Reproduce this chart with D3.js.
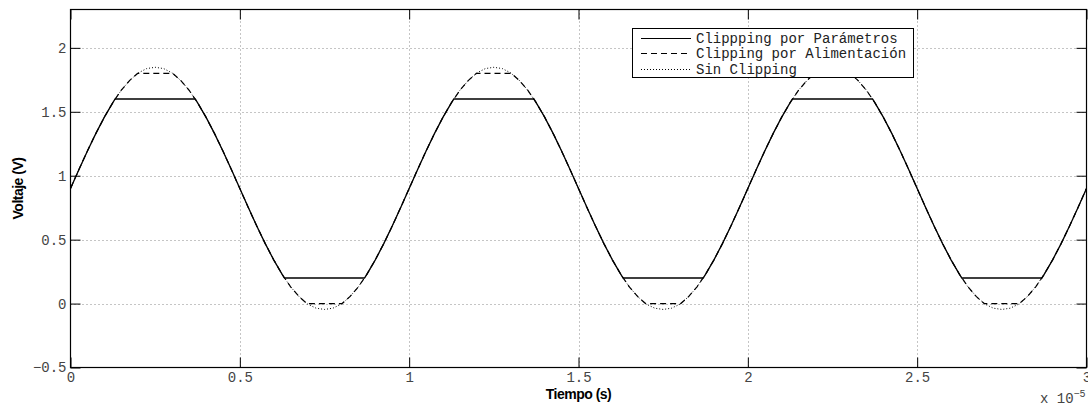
<!DOCTYPE html>
<html>
<head>
<meta charset="utf-8">
<script src="https://cdn.jsdelivr.net/npm/d3@7"></script>
<style>
  html, body { margin: 0; padding: 0; background: #fff; }
  svg { display: block; }
</style>
</head>
<body>
<svg id="chart" width="1088" height="411"></svg>
<script>
// Time axis values are expressed in units of 10^-5 s.

// Sin Clipping: uniformly sampled output voltage (V)
const tiempoSin = [
  0,0.025,0.05,0.075,0.1,0.125,0.15,0.175,0.2,0.225,0.25,0.275,0.3,0.325,0.35,0.375,0.4,0.425,0.45,0.475,
  0.5,0.525,0.55,0.575,0.6,0.625,0.65,0.675,0.7,0.725,0.75,0.775,0.8,0.825,0.85,0.875,0.9,0.925,0.95,0.975,
  1,1.025,1.05,1.075,1.1,1.125,1.15,1.175,1.2,1.225,1.25,1.275,1.3,1.325,1.35,1.375,1.4,1.425,1.45,1.475,
  1.5,1.525,1.55,1.575,1.6,1.625,1.65,1.675,1.7,1.725,1.75,1.775,1.8,1.825,1.85,1.875,1.9,1.925,1.95,1.975,
  2,2.025,2.05,2.075,2.1,2.125,2.15,2.175,2.2,2.225,2.25,2.275,2.3,2.325,2.35,2.375,2.4,2.425,2.45,2.475,
  2.5,2.525,2.55,2.575,2.6,2.625,2.65,2.675,2.7,2.725,2.75,2.775,2.8,2.825,2.85,2.875,2.9,2.925,2.95,2.975,
  3
];
const voltajeSin = [
  0.900,1.049,1.194,1.331,1.458,1.572,1.669,1.746,1.804,1.838,1.848,1.838,1.804,1.746,1.669,1.572,1.458,1.331,1.194,1.049,
  0.900,0.751,0.606,0.469,0.342,0.228,0.131,0.054,-0.004,-0.036,-0.046,-0.036,-0.004,0.054,0.131,0.228,0.342,0.469,0.606,0.751,
  0.900,1.049,1.194,1.331,1.458,1.572,1.669,1.746,1.804,1.838,1.848,1.838,1.804,1.746,1.669,1.572,1.458,1.331,1.194,1.049,
  0.900,0.751,0.606,0.469,0.342,0.228,0.131,0.054,-0.004,-0.036,-0.046,-0.036,-0.004,0.054,0.131,0.228,0.342,0.469,0.606,0.751,
  0.900,1.049,1.194,1.331,1.458,1.572,1.669,1.746,1.804,1.838,1.848,1.838,1.804,1.746,1.669,1.572,1.458,1.331,1.194,1.049,
  0.900,0.751,0.606,0.469,0.342,0.228,0.131,0.054,-0.004,-0.036,-0.046,-0.036,-0.004,0.054,0.131,0.228,0.342,0.469,0.606,0.751,
  0.900
];

// Clipping por Parámetros: output limited to 0.2 V .. 1.6 V
const tiempoParametros = [
  0,0.025,0.05,0.075,0.1,0.125,0.1318,0.3682,0.375,0.4,0.425,0.45,0.475,0.5,0.525,0.55,0.575,0.6,0.625,0.6318,0.8682,0.875,0.9,0.925,0.95,0.975,
  1,1.025,1.05,1.075,1.1,1.125,1.1318,1.3682,1.375,1.4,1.425,1.45,1.475,1.5,1.525,1.55,1.575,1.6,1.625,1.6318,1.8682,1.875,1.9,1.925,1.95,1.975,
  2,2.025,2.05,2.075,2.1,2.125,2.1318,2.3682,2.375,2.4,2.425,2.45,2.475,2.5,2.525,2.55,2.575,2.6,2.625,2.6318,2.8682,2.875,2.9,2.925,2.95,2.975,
  3
];
const voltajeParametros = [
  0.900,1.049,1.194,1.331,1.458,1.572,1.600,1.600,1.572,1.458,1.331,1.194,1.049,0.900,0.751,0.606,0.469,0.342,0.228,0.200,0.200,0.228,0.342,0.469,0.606,0.751,
  0.900,1.049,1.194,1.331,1.458,1.572,1.600,1.600,1.572,1.458,1.331,1.194,1.049,0.900,0.751,0.606,0.469,0.342,0.228,0.200,0.200,0.228,0.342,0.469,0.606,0.751,
  0.900,1.049,1.194,1.331,1.458,1.572,1.600,1.600,1.572,1.458,1.331,1.194,1.049,0.900,0.751,0.606,0.469,0.342,0.228,0.200,0.200,0.228,0.342,0.469,0.606,0.751,
  0.900
];

// Clipping por Alimentación: output limited to the 0 V .. 1.8 V supply rails
const tiempoAlimentacion = [
  0,0.025,0.05,0.075,0.1,0.125,0.15,0.175,0.1981,0.3019,0.325,0.35,0.375,0.4,0.425,0.45,0.475,0.5,0.525,0.55,0.575,0.6,0.625,0.65,0.675,0.6981,0.8019,0.825,0.85,0.875,0.9,0.925,0.95,0.975,
  1,1.025,1.05,1.075,1.1,1.125,1.15,1.175,1.1981,1.3019,1.325,1.35,1.375,1.4,1.425,1.45,1.475,1.5,1.525,1.55,1.575,1.6,1.625,1.65,1.675,1.6981,1.8019,1.825,1.85,1.875,1.9,1.925,1.95,1.975,
  2,2.025,2.05,2.075,2.1,2.125,2.15,2.175,2.1981,2.3019,2.325,2.35,2.375,2.4,2.425,2.45,2.475,2.5,2.525,2.55,2.575,2.6,2.625,2.65,2.675,2.6981,2.8019,2.825,2.85,2.875,2.9,2.925,2.95,2.975,
  3
];
const voltajeAlimentacion = [
  0.900,1.049,1.194,1.331,1.458,1.572,1.669,1.746,1.800,1.800,1.746,1.669,1.572,1.458,1.331,1.194,1.049,0.900,0.751,0.606,0.469,0.342,0.228,0.131,0.054,0.000,0.000,0.054,0.131,0.228,0.342,0.469,0.606,0.751,
  0.900,1.049,1.194,1.331,1.458,1.572,1.669,1.746,1.800,1.800,1.746,1.669,1.572,1.458,1.331,1.194,1.049,0.900,0.751,0.606,0.469,0.342,0.228,0.131,0.054,0.000,0.000,0.054,0.131,0.228,0.342,0.469,0.606,0.751,
  0.900,1.049,1.194,1.331,1.458,1.572,1.669,1.746,1.800,1.800,1.746,1.669,1.572,1.458,1.331,1.194,1.049,0.900,0.751,0.606,0.469,0.342,0.228,0.131,0.054,0.000,0.000,0.054,0.131,0.228,0.342,0.469,0.606,0.751,
  0.900
];

const xTicks = [0, 0.5, 1, 1.5, 2, 2.5, 3];
const yTicks = [-0.5, 0, 0.5, 1, 1.5, 2];
const xTickLabels = ["0", "0.5", "1", "1.5", "2", "2.5", "3"];
const yTickLabels = ["\u22120.5", "0", "0.5", "1", "1.5", "2"];
const legendLabels = ["Clippping por Parámetros", "Clipping por Alimentación", "Sin Clipping"];

const svg = d3.select("#chart");
const L = 70.5, R = 1086.5, T = 9.5, B = 367.5;
const x = d3.scaleLinear().domain([0, 3]).range([L, R]);
const y = d3.scaleLinear().domain([-0.5, 2.3]).range([B, T]);

const mono = "'Liberation Mono', 'DejaVu Sans Mono', monospace";
const sans = "'Liberation Sans', Arial, sans-serif";

// dotted grid
const grid = svg.append("g");
grid.selectAll("line.gx").data(xTicks.filter(d => d > 0 && d < 3)).join("line")
  .attr("x1", d => Math.round(x(d)) + 0.5).attr("x2", d => Math.round(x(d)) + 0.5)
  .attr("y1", T).attr("y2", B)
  .attr("stroke", "#8a8a8a").attr("stroke-width", 1).attr("stroke-dasharray", "1,3");
grid.selectAll("line.gy").data(yTicks.filter(d => d > -0.5)).join("line")
  .attr("y1", d => Math.round(y(d)) + 0.5).attr("y2", d => Math.round(y(d)) + 0.5)
  .attr("x1", L).attr("x2", R)
  .attr("stroke", "#8a8a8a").attr("stroke-width", 1).attr("stroke-dasharray", "1,3");

// series
const series = [
  { t: tiempoSin, v: voltajeSin, dash: "1,2", w: 1 },
  { t: tiempoAlimentacion, v: voltajeAlimentacion, dash: "6,4", w: 1.2 },
  { t: tiempoParametros, v: voltajeParametros, dash: null, w: 1.3 }
];
const line = d3.line().x(d => x(d[0])).y(d => y(d[1]));
series.forEach(s => {
  svg.append("path")
    .datum(s.t.map((t, i) => [t, s.v[i]]))
    .attr("d", line)
    .attr("fill", "none")
    .attr("stroke", "#000")
    .attr("stroke-width", s.w)
    .attr("stroke-dasharray", s.dash);
});

// axes with inward ticks on all four sides
function styleAxis(g) {
  g.select(".domain").remove();
  g.selectAll(".tick line").attr("stroke", "#000");
  g.selectAll(".tick text").attr("fill", "#444").style("font-family", mono).style("font-size", "14px");
}
const xb = svg.append("g").attr("transform", `translate(0,${B})`)
  .call(d3.axisBottom(x).tickValues(xTicks).tickSize(-10).tickPadding(5)
    .tickFormat((d, i) => xTickLabels[i]));
styleAxis(xb);
const yl = svg.append("g").attr("transform", `translate(${L},0)`)
  .call(d3.axisLeft(y).tickValues(yTicks).tickSize(-10).tickPadding(4)
    .tickFormat((d, i) => yTickLabels[i]));
styleAxis(yl);
const xt = svg.append("g").attr("transform", `translate(0,${T})`)
  .call(d3.axisTop(x).tickValues(xTicks).tickSize(-10).tickFormat(""));
styleAxis(xt);
const yr = svg.append("g").attr("transform", `translate(${R},0)`)
  .call(d3.axisRight(y).tickValues(yTicks).tickSize(-10).tickFormat(""));
styleAxis(yr);

// frame
svg.append("rect").attr("x", L).attr("y", T).attr("width", R - L).attr("height", B - T)
  .attr("fill", "none").attr("stroke", "#000").attr("stroke-width", 1.2);

// axis labels
svg.append("text").attr("x", (L + R) / 2).attr("y", 399)
  .attr("text-anchor", "middle").style("font-family", sans).style("font-weight", "bold")
  .style("font-size", "14px").style("letter-spacing", "-0.5px").text("Tiempo (s)");
svg.append("text").attr("transform", `translate(23,${(T + B) / 2}) rotate(-90)`)
  .attr("text-anchor", "middle").style("font-family", sans).style("font-weight", "bold")
  .style("font-size", "14px").style("letter-spacing", "-0.5px").text("Voltaje (V)");

// exponent of the time axis
const ex = svg.append("text").attr("x", 1040).attr("y", 403)
  .attr("fill", "#444").style("font-family", mono).style("font-size", "14px");
ex.append("tspan").text("x 10");
ex.append("tspan").attr("dy", -6).style("font-size", "10px").text("\u22125");

// legend
const lg = svg.append("g");
lg.append("rect").attr("x", 632.5).attr("y", 28.5).attr("width", 281).attr("height", 49)
  .attr("fill", "#fff").attr("stroke", "#000").attr("stroke-width", 1);
const legendDash = [null, "6,4", "1,2"];
const rowY = [38.5, 53.5, 69.5];
legendLabels.forEach((lab, i) => {
  lg.append("line").attr("x1", 641).attr("x2", 691).attr("y1", rowY[i]).attr("y2", rowY[i])
    .attr("stroke", "#000").attr("stroke-width", i === 2 ? 1 : 1.2)
    .attr("stroke-dasharray", legendDash[i]);
  lg.append("text").attr("x", 696).attr("y", rowY[i]).attr("dy", "0.35em")
    .attr("fill", "#222").style("font-family", mono).style("font-size", "14px").text(lab);
});
</script>
</body>
</html>
